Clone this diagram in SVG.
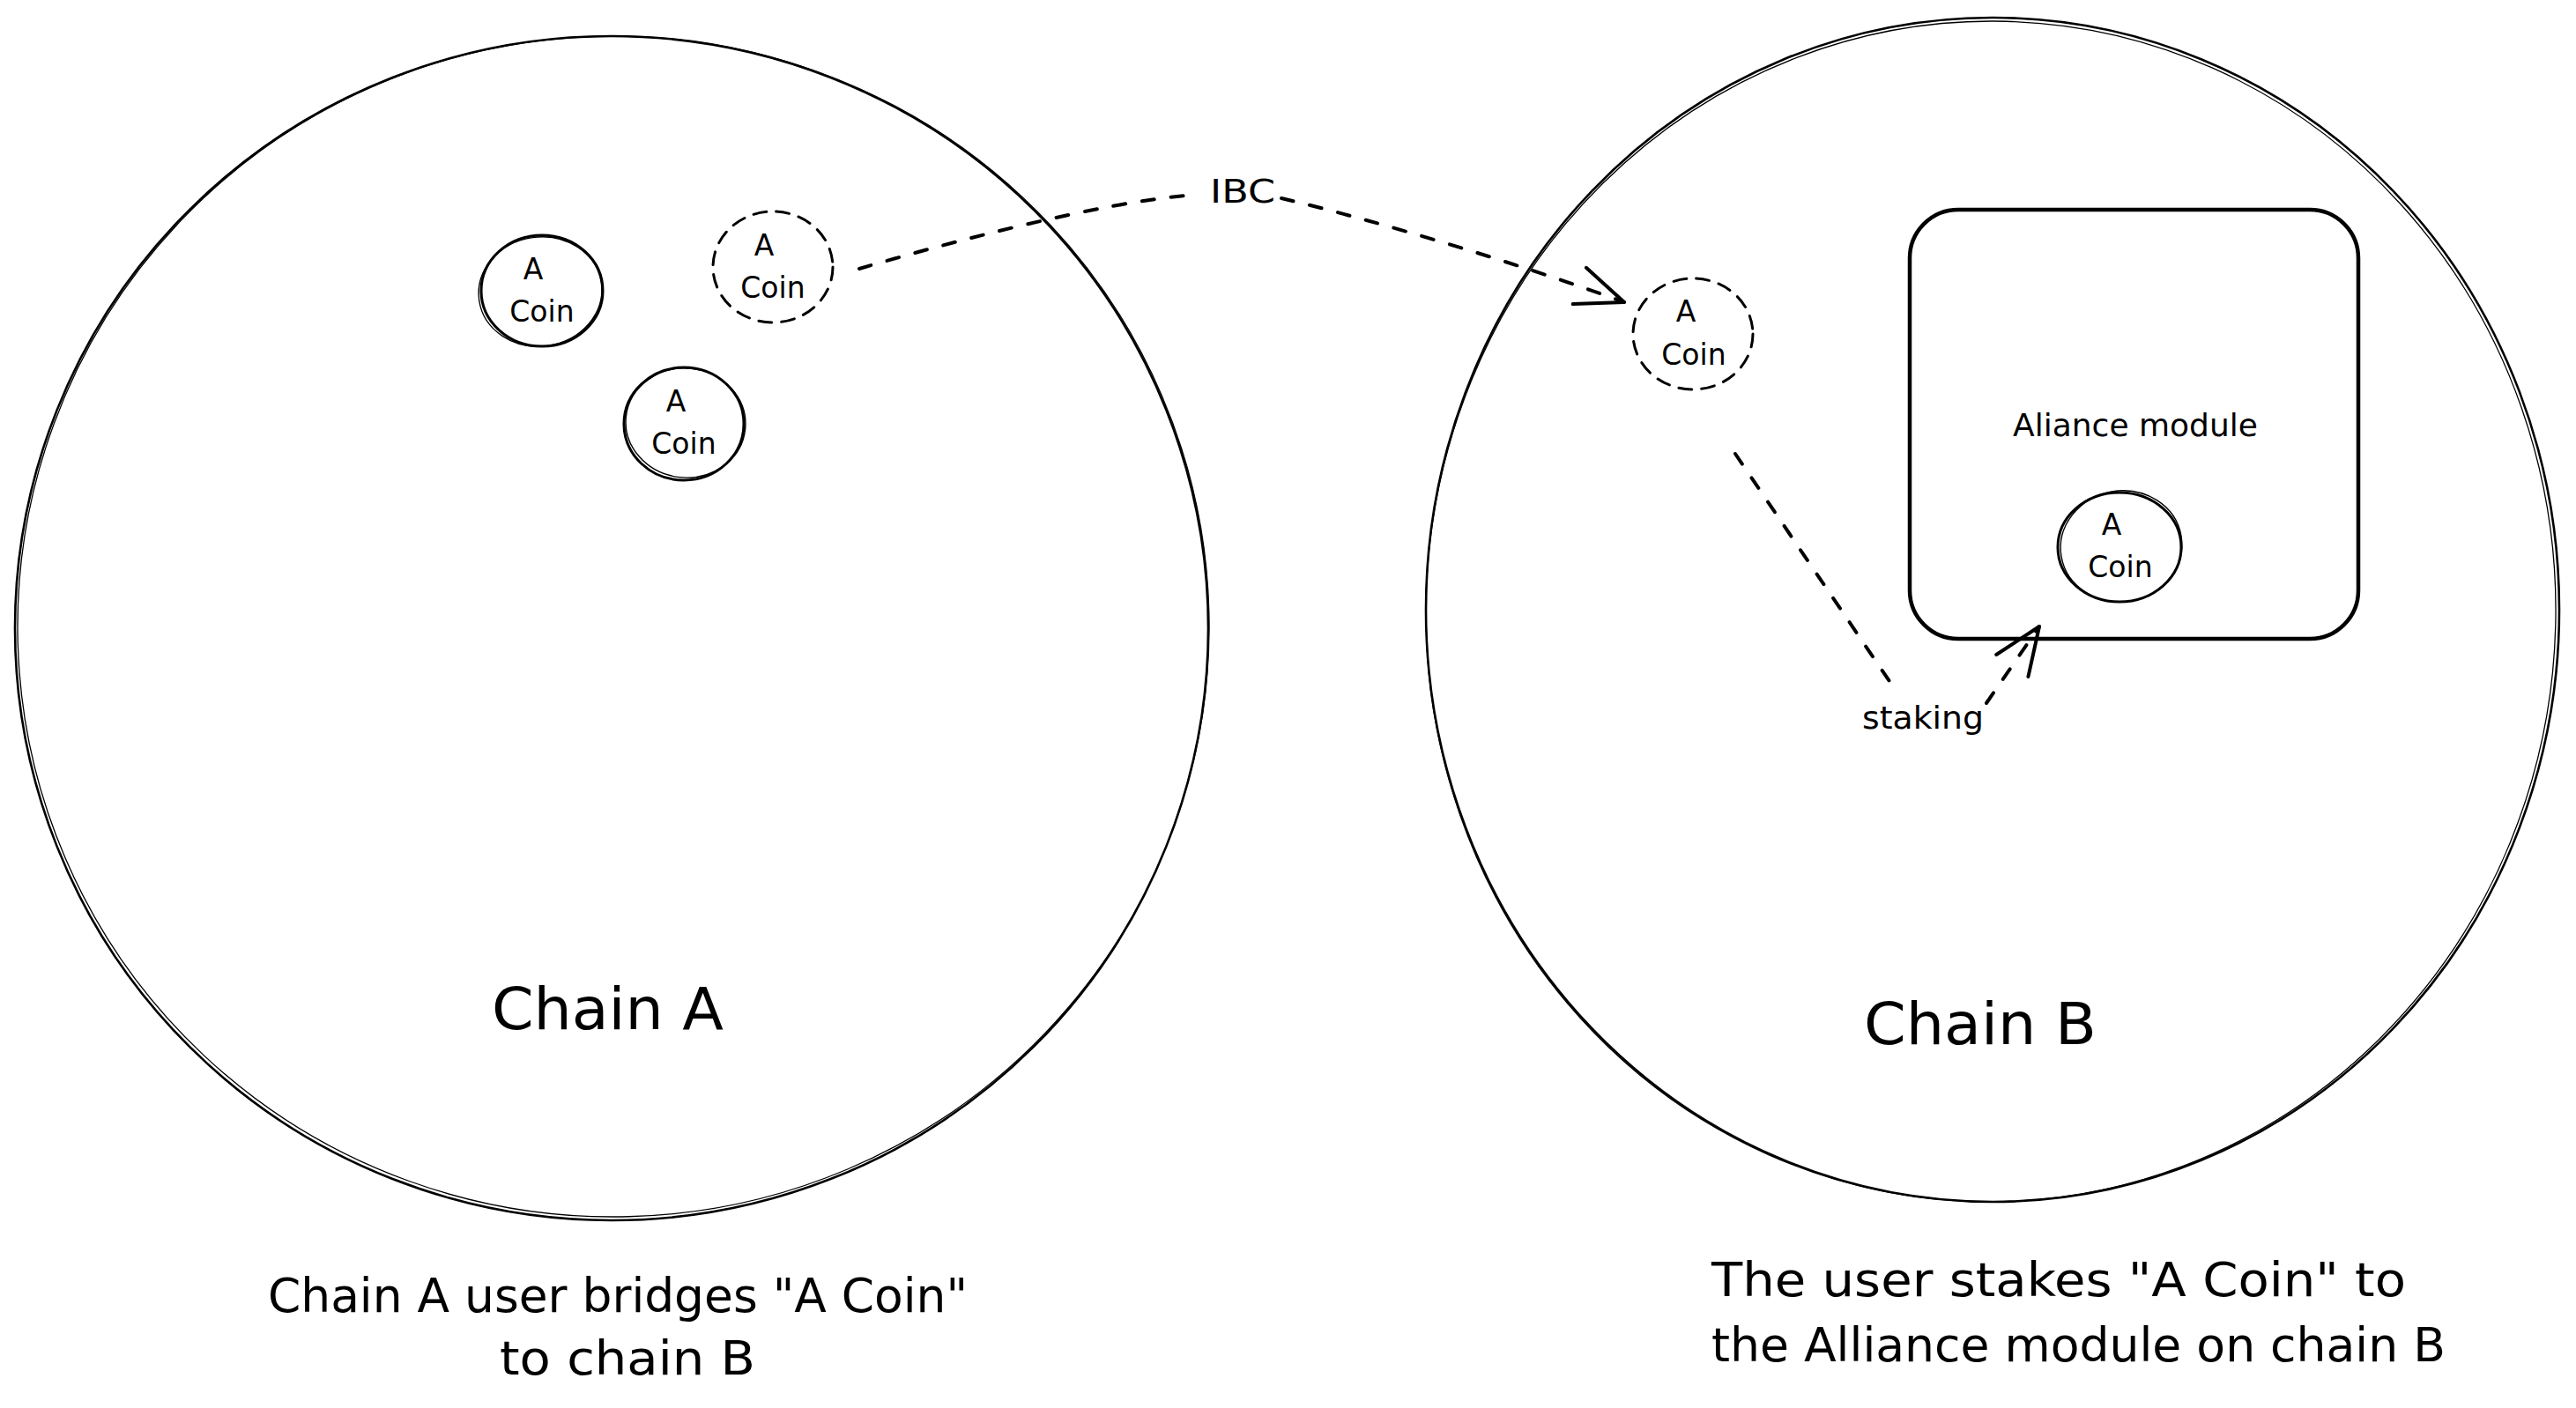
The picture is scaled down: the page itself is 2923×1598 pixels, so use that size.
<svg xmlns="http://www.w3.org/2000/svg" width="2923" height="1598" viewBox="0 0 2923 1598">
<style>
  .bg{fill:#ffffff}
  .outline{fill:none;stroke:#000;stroke-width:2.6}
  .sketch{fill:none;stroke:#000;stroke-width:1.3}
  .coin{fill:none;stroke:#000;stroke-width:3}
  .coin2{fill:none;stroke:#000;stroke-width:1.4}
  .coin-dash{fill:none;stroke:#000;stroke-width:3;stroke-dasharray:15 11;stroke-linecap:round}
  .box{fill:none;stroke:#000;stroke-width:4.5}
  .conn{fill:none;stroke:#000;stroke-width:4;stroke-dasharray:14 19;stroke-linecap:round}
  text{font-family:"DejaVu Sans","Liberation Sans",sans-serif;fill:#000}
  .ct{font-size:33px;text-anchor:middle}
  .lbl{font-size:36px;text-anchor:middle}
  .title{font-size:66px}
  .cap{font-size:53px}
</style>
<defs>
  <marker id="arrow" markerUnits="userSpaceOnUse" viewBox="-62 -32 70 64" markerWidth="70" markerHeight="64" refX="0" refY="0" orient="auto" overflow="visible">
    <path d="M-54,-22 L0,0 L-54,22" fill="none" stroke="#000" stroke-width="4" stroke-dasharray="none" stroke-linecap="round" stroke-linejoin="round"/>
  </marker>
</defs>
<rect class="bg" x="0" y="0" width="2923" height="1598"/>

<g id="chain-a">
  <ellipse class="outline" cx="694" cy="713" rx="677" ry="672"/>
  <ellipse class="sketch" cx="696" cy="711" rx="676" ry="670" transform="rotate(-1.5 696 711)"/>
  <text class="title" x="558" y="1168" textLength="263" lengthAdjust="spacingAndGlyphs">Chain A</text>
</g>

<g id="chain-b">
  <ellipse class="outline" cx="2261" cy="692" rx="643" ry="672"/>
  <ellipse class="sketch" cx="2259" cy="694" rx="641" ry="670" transform="rotate(1.5 2259 694)"/>
  <text class="title" x="2115" y="1185" textLength="264" lengthAdjust="spacingAndGlyphs">Chain B</text>
</g>

<g id="coin-a1">
  <ellipse class="coin" cx="615" cy="330" rx="69" ry="63"/>
  <ellipse class="coin2" cx="613" cy="331" rx="70" ry="62" transform="rotate(-8 613 331)"/>
  <text class="ct" x="605" y="317">A</text>
  <text class="ct" x="615" y="365">Coin</text>
</g>

<g id="coin-a2">
  <ellipse class="coin-dash" cx="877" cy="303" rx="68" ry="63"/>
  <text class="ct" x="867" y="290">A</text>
  <text class="ct" x="877" y="338">Coin</text>
</g>

<g id="coin-a3">
  <ellipse class="coin" cx="776" cy="481" rx="68" ry="64"/>
  <ellipse class="coin2" cx="778" cy="480" rx="68" ry="62" transform="rotate(6 778 480)"/>
  <text class="ct" x="767" y="467">A</text>
  <text class="ct" x="776" y="515">Coin</text>
</g>

<g id="coin-b1">
  <ellipse class="coin-dash" cx="1921" cy="379" rx="68" ry="63"/>
  <text class="ct" x="1913" y="365">A</text>
  <text class="ct" x="1922" y="414">Coin</text>
</g>

<g id="alliance-module">
  <rect class="box" x="2167" y="238" width="509" height="487" rx="55" ry="55"/>
  <text class="lbl" x="2423" y="495">Aliance module</text>
</g>

<g id="coin-b2">
  <ellipse class="coin" cx="2405" cy="621" rx="70" ry="62"/>
  <ellipse class="coin2" cx="2407" cy="620" rx="69" ry="63" transform="rotate(-10 2407 620)"/>
  <text class="ct" x="2396" y="607">A</text>
  <text class="ct" x="2406" y="655">Coin</text>
</g>

<g id="connectors">
  <path class="conn" d="M975,305 C1060,280 1250,228 1358,221 M1454,225 C1560,250 1720,298 1843,343" marker-end="url(#arrow)"/>
  <text class="lbl" x="1410" y="230" textLength="74" lengthAdjust="spacingAndGlyphs" style="font-size:38px">IBC</text>
  <path class="conn" d="M1969,515 L2152,785 M2254,798 L2314,711" marker-end="url(#arrow)"/>
  <text class="lbl" x="2182" y="827" textLength="138" lengthAdjust="spacingAndGlyphs">staking</text>
</g>

<g id="caption-a">
  <text class="cap" x="701" y="1489" text-anchor="middle" textLength="794" lengthAdjust="spacingAndGlyphs">Chain A user bridges "A Coin"</text>
  <text class="cap" x="712" y="1560" text-anchor="middle" textLength="290" lengthAdjust="spacingAndGlyphs">to chain B</text>
</g>

<g id="caption-b">
  <text class="cap" x="1942" y="1471" textLength="788" lengthAdjust="spacingAndGlyphs">The user stakes "A Coin" to</text>
  <text class="cap" x="1942" y="1545" textLength="833" lengthAdjust="spacingAndGlyphs">the Alliance module on chain B</text>
</g>
</svg>
